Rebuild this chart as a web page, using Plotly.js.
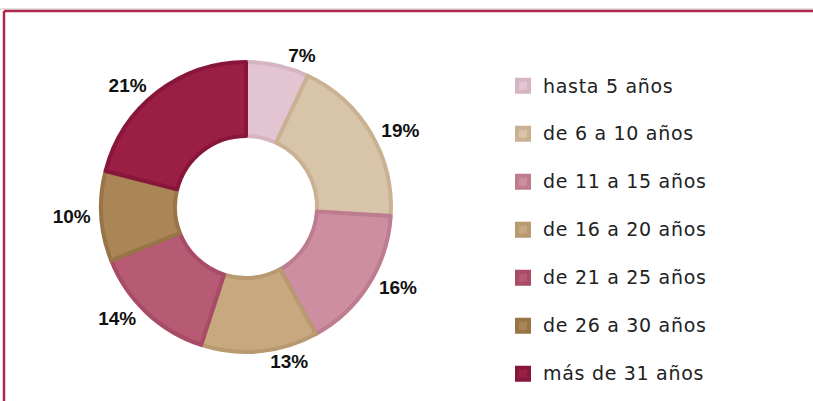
<!DOCTYPE html>
<html>
<head>
<meta charset="utf-8">
<script src="https://cdn.plot.ly/plotly-3.0.1.min.js"></script>
<style>
  html, body { margin: 0; padding: 0; background: #ffffff; }
  #chart { width: 813px; height: 401px; }
  .legendtext { font-size: 19px !important; letter-spacing: 0.7px; }
</style>
</head>
<body>
<div id="chart"></div>
<script>
// Data
const categories = ['hasta 5 años', 'de 6 a 10 años', 'de 11 a 15 años', 'de 16 a 20 años', 'de 21 a 25 años', 'de 26 a 30 años', 'más de 31 años'];
const shares = [7, 19, 16, 13, 14, 10, 21];
const sliceColors = ['#E3C5D1', '#D8C4A9', '#CC8EA0', '#C7A87F', '#B75A74', '#AA8556', '#9B1E45'];
const sliceEdges = ['#D6B5C3', '#C9B192', '#BD7D8F', '#B89970', '#A84B66', '#987546', '#87163A'];

const W = 813, H = 401;
const cx = 246, cy = 207, R = 145;

const trace = {
  type: 'pie',
  labels: categories.map(c => c + '<br> '),
  values: shares,
  sort: false,
  direction: 'clockwise',
  rotation: 0,
  hole: 0.49,
  texttemplate: '\u00a0%{value}%\u00a0',
  textposition: 'outside',
  outsidetextfont: { family: 'Liberation Sans, Arial, sans-serif', size: 19, color: '#111111', weight: 'bold' },
  marker: { colors: sliceColors, line: { color: sliceEdges, width: 4 } },
  domain: {
    x: [(cx - R) / W, (cx + R) / W],
    y: [(H - cy - R) / H, (H - cy + R) / H]
  },
  automargin: false,
  hoverinfo: 'label+percent'
};

const layout = {
  width: W,
  height: H,
  margin: { l: 0, r: 0, t: 0, b: 0, autoexpand: false },
  paper_bgcolor: '#ffffff',
  plot_bgcolor: '#ffffff',
  showlegend: true,
  legend: {
    x: 503 / W, xanchor: 'left',
    y: 1 - 68 / H, yanchor: 'top',
    valign: 'top',
    font: { family: 'DejaVu Sans, sans-serif', size: 17.3, color: '#222222' },
    itemwidth: 30,
    bgcolor: 'rgba(0,0,0,0)'
  },
  shapes: [
    { type: 'line', xref: 'paper', yref: 'paper', x0: 0, x1: 1, y0: 1 - 9 / H, y1: 1 - 9 / H, line: { color: '#c9c2c5', width: 1 } },
    { type: 'line', xref: 'paper', yref: 'paper', x0: 4 / W, x1: 1, y0: 1 - 11 / H, y1: 1 - 11 / H, line: { color: '#B0284C', width: 2.5 } },
    { type: 'line', xref: 'paper', yref: 'paper', x0: 4 / W, x1: 4 / W, y0: 0, y1: 1 - 11 / H, line: { color: '#B0284C', width: 2.5 } }
  ]
};

Plotly.newPlot('chart', [trace], layout, { displayModeBar: false, staticPlot: true });
</script>
</body>
</html>
